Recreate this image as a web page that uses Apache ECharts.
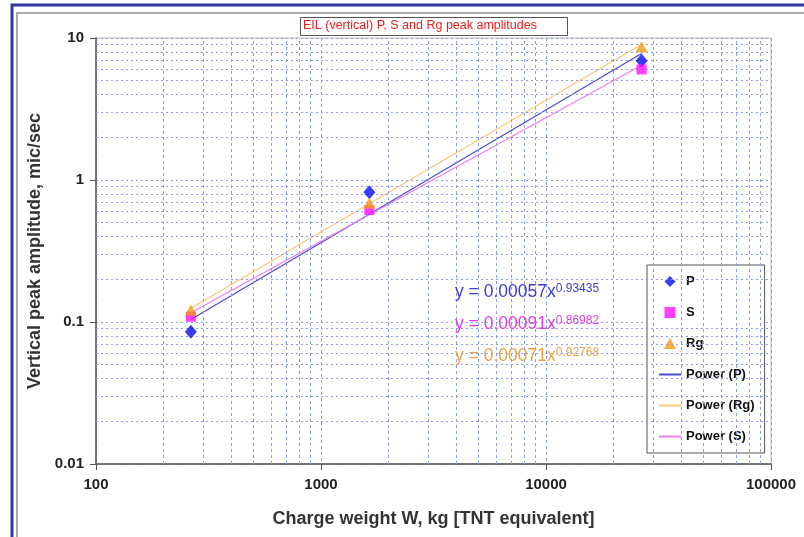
<!DOCTYPE html>
<html>
<head>
<meta charset="utf-8">
<script src="https://cdn.jsdelivr.net/npm/echarts@6/dist/echarts.min.js"></script>
<style>
  html, body { margin: 0; padding: 0; background: #fff; }
  #chart { width: 804px; height: 537px; }
</style>
</head>
<body>
<div id="chart"></div>
<script>
// measured points (charge weight kg, amplitude mic/sec)
const weights = [264, 1640, 26600]
const pAmp = [0.0855, 0.82, 6.92]
const sAmp = [0.109, 0.615, 6.01]
const rgAmp = [0.1216, 0.69, 8.68]

// power trend line end points
const fitX = [264, 26600]
const pFit = [0.104, 7.77]
const sFit = [0.116, 6.43]
const rgFit = [0.125, 9.05]

// equation labels
const eqMain = ['y = 0.00057x', 'y = 0.00091x', 'y = 0.00071x']
const eqExp = ['0.93435', '0.86982', '0.92768']

// minor grid positions
const xMinor = [200, 300, 400, 500, 600, 700, 800, 900,
  2000, 3000, 4000, 5000, 6000, 7000, 8000, 9000,
  20000, 30000, 40000, 50000, 60000, 70000, 80000, 90000]
const yMinor = [0.02, 0.03, 0.04, 0.05, 0.06, 0.07, 0.08, 0.09,
  0.2, 0.3, 0.4, 0.5, 0.6, 0.7, 0.8, 0.9,
  2, 3, 4, 5, 6, 7, 8, 9]

const font = '"Liberation Sans", Arial, sans-serif'
const gridColor = '#8c9ee6'
const eqColors = ['#3c3cd0', '#e040e0', '#e8a448']

const myChart = echarts.init(document.getElementById('chart'))

const pair = (xs, ys) => xs.map((x, i) => [x, ys[i]])
const hideDot = { opacity: 0 }

const option = {
  backgroundColor: '#fff',
  animation: false,
  textStyle: { fontFamily: font },
  grid: {
    left: 96, right: 33, top: 38, bottom: 73,
    show: true, borderColor: '#b8b8b8', borderWidth: 1
  },
  legend: {
    orient: 'vertical',
    left: 647, top: 265,
    padding: [10, 10, 10, 11],
    itemGap: 18,
    itemWidth: 22, itemHeight: 11,
    symbolKeepAspect: true,
    backgroundColor: '#fff',
    borderColor: '#555', borderWidth: 1,
    textStyle: { fontSize: 13, fontWeight: 'bold', color: '#111', fontFamily: font },
    data: [
      { name: 'P', icon: 'path://M5,0 L10,5 L5,10 L0,5 Z' },
      { name: 'S', icon: 'path://M0,0 L9,0 L9,9 L0,9 Z' },
      { name: 'Rg', icon: 'path://M5,0 L10,9 L0,9 Z' },
      { name: 'Power (P)', itemStyle: hideDot },
      { name: 'Power (Rg)', itemStyle: hideDot },
      { name: 'Power (S)', itemStyle: hideDot }
    ]
  },
  xAxis: {
    type: 'log', logBase: 10, min: 100, max: 100000,
    name: 'Charge weight W, kg [TNT equivalent]',
    nameLocation: 'middle', nameGap: 46,
    nameTextStyle: { fontSize: 18, fontWeight: 'bold', color: '#333' },
    axisLine: { lineStyle: { color: '#555', width: 1.5 } },
    axisTick: { length: 6, lineStyle: { color: '#555' } },
    axisLabel: {
      margin: 13, fontSize: 15, fontWeight: 'bold', color: '#222',
      formatter: v => String(+Number(v).toPrecision(6))
    },
    splitLine: { show: true, lineStyle: { color: gridColor, type: [3, 3], width: 1 } }
  },
  yAxis: {
    type: 'log', logBase: 10, min: 0.01, max: 10,
    name: 'Vertical peak amplitude, mic/sec',
    nameLocation: 'middle', nameGap: 52,
    nameTextStyle: { fontSize: 18, fontWeight: 'bold', color: '#333' },
    axisLine: { show: true, lineStyle: { color: '#555', width: 1.5 } },
    axisTick: { show: true, length: 6, lineStyle: { color: '#555' } },
    axisLabel: {
      margin: 12, fontSize: 15, fontWeight: 'bold', color: '#222',
      formatter: v => String(+Number(v).toPrecision(6))
    },
    splitLine: { show: true, lineStyle: { color: gridColor, type: [2, 3], width: 1 } }
  },
  graphic: [
    { type: 'rect', silent: true, z: 100,
      shape: { x: 12, y: 5, width: 900, height: 700 },
      style: { fill: 'none', stroke: '#3535a5', lineWidth: 3 } },
    { type: 'rect', silent: true, z: 100,
      shape: { x: 17, y: 13, width: 900, height: 700 },
      style: { fill: 'none', stroke: '#a8a8a8', lineWidth: 2 } },
    { type: 'rect', z: 100,
      shape: { x: 300.5, y: 17.5, width: 267, height: 18 },
      style: { fill: '#fff', stroke: '#555', lineWidth: 1 } },
    { type: 'text', z: 101, left: 303, top: 19,
      style: { text: 'EIL (vertical) P, S and Rg peak amplitudes', fill: '#ee1c1c',
        fontSize: 12.5, fontFamily: font } },
    ...eqMain.map((t, i) => ({
      type: 'text', z: 101, left: 455, top: 283 + i * 32,
      style: {
        text: '{m|' + t + '}{s|' + eqExp[i] + '}',
        rich: {
          m: { fontSize: 17.5, fill: eqColors[i], fontFamily: font },
          s: { fontSize: 12, fill: eqColors[i], fontFamily: font, verticalAlign: 'top' }
        }
      }
    }))
  ],
  series: [
    {
      name: 'grid-minor', type: 'line', data: [], silent: true, z: 1,
      markLine: {
        silent: true, symbol: 'none', label: { show: false }, animation: false,
        data: [
          ...xMinor.map(v => ({ xAxis: v, lineStyle: { color: gridColor, type: [3, 3], width: 1 } })),
          ...yMinor.map(v => ({ yAxis: v, lineStyle: { color: gridColor, type: [2, 3], width: 1 } }))
        ]
      }
    },
    {
      name: 'Power (P)', type: 'line', symbol: 'none', z: 3,
      lineStyle: { color: '#4a4ad8', width: 1.2 }, itemStyle: { color: '#4a4ad8' },
      data: pair(fitX, pFit)
    },
    {
      name: 'Power (Rg)', type: 'line', symbol: 'none', z: 3,
      lineStyle: { color: '#f8c878', width: 1.2 }, itemStyle: { color: '#f8c878' },
      data: pair(fitX, rgFit)
    },
    {
      name: 'Power (S)', type: 'line', symbol: 'none', z: 3,
      lineStyle: { color: '#f07cf0', width: 1.2 }, itemStyle: { color: '#f07cf0' },
      data: pair(fitX, sFit)
    },
    {
      name: 'P', type: 'scatter', symbol: 'diamond', symbolSize: [12, 14], z: 5,
      itemStyle: { color: '#0a0aee' },
      data: pair(weights, pAmp)
    },
    {
      name: 'S', type: 'scatter', symbol: 'rect', symbolSize: 10, z: 5,
      itemStyle: { color: '#ff10ff' },
      data: pair(weights, sAmp)
    },
    {
      name: 'Rg', type: 'scatter', symbol: 'triangle', symbolSize: [12, 11], z: 5,
      itemStyle: { color: '#f59a12' },
      data: pair(weights, rgAmp)
    }
  ]
}

myChart.setOption(option)
window.addEventListener('resize', () => myChart && myChart.resize())
</script>
</body>
</html>
